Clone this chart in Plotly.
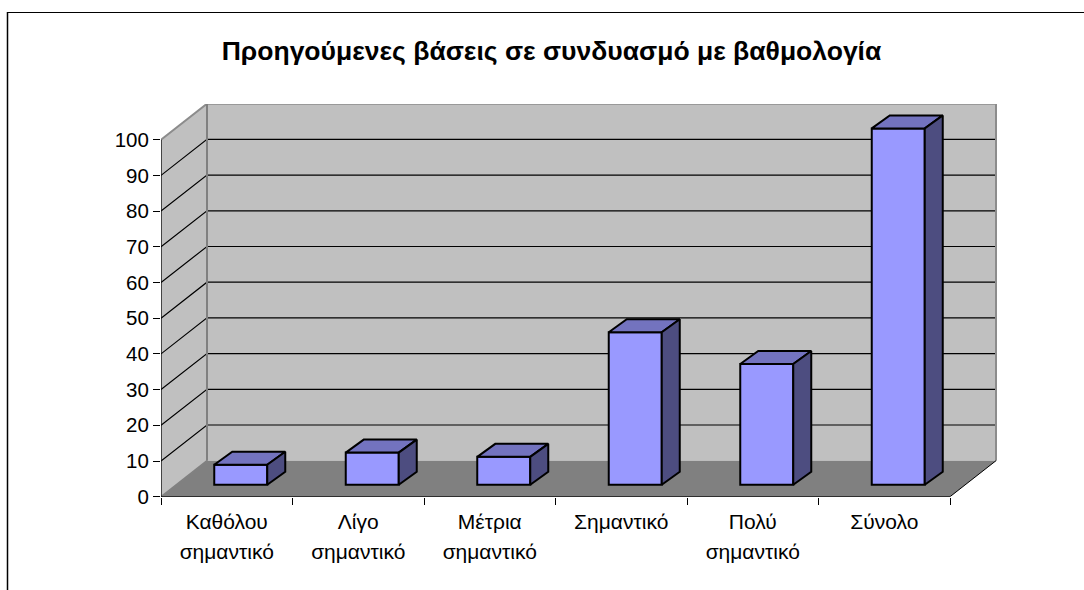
import plotly.graph_objects as go

title = "Προηγούμενες βάσεις σε συνδυασμό με βαθμολογία"
label_line1 = ["Καθόλου", "Λίγο", "Μέτρια", "Σημαντικό", "Πολύ", "Σύνολο"]
label_line2 = ["σημαντικό", "σημαντικό", "σημαντικό", "", "σημαντικό", ""]
values = [5.6, 9.0, 7.8, 42.7, 33.8, 99.8]
y_ticks = [0, 10, 20, 30, 40, 50, 60, 70, 80, 90, 100]

# pseudo-3D projection, in axis units
W, H = 1084, 590
PX_X = 131.5       # pixels per category
PX_Y = 3.57        # pixels per value unit
DX, DY = 46 / PX_X, 36 / PX_Y          # depth of the floor
BX, BY = 14 / PX_X, 12 / PX_Y          # bar front-face offset
BDX, BDY = 18 / PX_X, 13 / PX_Y        # bar depth
BW = 53 / PX_X                         # bar width
L = -0.5
R = L + len(values)
TOP = max(y_ticks)
x_rng = [L, L + 836 / PX_X]
y_rng = [0, (496.7 - 104) / PX_Y]
font = "Liberation Sans, Arial, sans-serif"
off = dict(hoverinfo="skip", showlegend=False, mode="lines")

fig = go.Figure()

def poly(xs, ys, fill, line="rgba(0,0,0,0)", width=0, z=0):
    fig.add_trace(go.Scatter(x=xs, y=ys, fill="toself", fillcolor=fill,
                             line=dict(color=line, width=width), zorder=z,
                             cliponaxis=False, **off))

def seg(xs, ys, color, width, z=0):
    fig.add_trace(go.Scatter(x=xs, y=ys, line=dict(color=color, width=width),
                             zorder=z, cliponaxis=False, **off))

# walls and floor
poly([L, L + DX, L + DX, L], [0, DY, TOP + DY, TOP], "#C0C0C0")
poly([L + DX, R + DX, R + DX, L + DX], [DY, DY, TOP + DY, TOP + DY], "#C0C0C0")
poly([L, R, R + DX, L + DX], [0, 0, DY, DY], "#808080")

# gridlines: side wall and back wall
gx, gy = [], []
for v in y_ticks[1:-1]:
    gx += [L, L + DX, R + DX, None]
    gy += [v, v + DY, v + DY, None]
seg(gx, gy, "#000000", 1.2)

# wall borders
seg([L, L + DX, R + DX, R + DX], [TOP, TOP + DY, TOP + DY, DY], "#8C8C8C", 2)
seg([L + DX, L + DX], [DY, TOP + DY], "#808080", 2)
seg([L, L + DX], [0, DY], "#808080", 1.5)
seg([R, R + DX], [0, DY], "#000000", 1)

# axis lines
seg([L, L], [0, TOP], "#000000", 1.3)
seg([L, R], [0, 0], "#000000", 1.3)

# bar front faces
centers = [i + BX for i in range(len(values))]
fig.add_trace(go.Bar(x=centers, y=values, base=BY, width=BW,
                     marker=dict(color="#9999FF", line=dict(color="#000000", width=2)),
                     zorder=1, hoverinfo="skip", showlegend=False))

# bar top and side faces
tx, ty, sx, sy = [], [], [], []
for c, v in zip(centers, values):
    x0, x1 = c - BW / 2, c + BW / 2
    y0, y1 = BY, BY + v
    tx += [x0, x1, x1 + BDX, x0 + BDX, x0, None]
    ty += [y1, y1, y1 + BDY, y1 + BDY, y1, None]
    sx += [x1, x1 + BDX, x1 + BDX, x1, x1, None]
    sy += [y0, y0 + BDY, y1 + BDY, y1, y0, None]
poly(tx, ty, "#7373BF", "#000000", 2, z=2)
poly(sx, sy, "#4D4D80", "#000000", 2, z=2)

# carrier of the second tick-label row
fig.add_trace(go.Scatter(x=list(range(len(values))), y=[None] * len(values),
                         xaxis="x2", yaxis="y", **off))

x_font = dict(family=font, size=21, color="#000000")
y_font = dict(family=font, size=20.5, color="#000000")
x_dom = [161 / W, 997 / W]
positions = list(range(len(values)))
boundaries = [L + i for i in range(len(values) + 1)]

fig.update_layout(
    width=W, height=H, margin=dict(l=0, r=0, t=0, b=0), autosize=False,
    paper_bgcolor="#FFFFFF", plot_bgcolor="rgba(0,0,0,0)", showlegend=False,
    barmode="overlay", hovermode=False,
    xaxis=dict(domain=x_dom, range=x_rng, showgrid=False, zeroline=False, showline=False,
               tickmode="array", tickvals=positions, ticktext=label_line1,
               ticks="outside", ticklen=0, tickangle=0, tickfont=x_font,
               ticklabelstandoff=6, automargin=False,
               minor=dict(tickmode="array", tickvals=boundaries, ticks="outside",
                          ticklen=7, tickwidth=1, tickcolor="#000000")),
    xaxis2=dict(domain=x_dom, range=x_rng, overlaying="x", anchor="y", side="bottom",
                showgrid=False, zeroline=False, showline=False,
                tickmode="array", tickvals=positions, ticktext=label_line2,
                ticks="", tickangle=0, tickfont=x_font, ticklabelstandoff=40,
                automargin=False),
    yaxis=dict(domain=[(H - 496.7) / H, (H - 104) / H], range=y_rng, showgrid=False,
               zeroline=False, showline=False, tickmode="array", tickvals=y_ticks,
               ticktext=[str(t) for t in y_ticks], ticks="outside", ticklen=7, tickwidth=1,
               tickcolor="#000000", tickfont=y_font, automargin=False),
    title=dict(text=f"<b>{title}</b>", x=551.5 / W, xanchor="center", y=1 - 51 / H,
               yanchor="middle", font=dict(family=font, size=26.5, color="#000000")),
    shapes=[
        dict(type="line", xref="paper", yref="paper", x0=7.5 / W, x1=1, y0=1 - 12.5 / H,
             y1=1 - 12.5 / H, line=dict(color="#000000", width=1.2)),
        dict(type="line", xref="paper", yref="paper", x0=7.5 / W, x1=7.5 / W, y0=0,
             y1=1 - 12 / H, line=dict(color="#000000", width=1.5)),
    ],
)

fig.write_html("out.html", config=dict(displayModeBar=False, responsive=False),
               post_script="document.body.style.margin='0';document.body.style.overflow='hidden';")
